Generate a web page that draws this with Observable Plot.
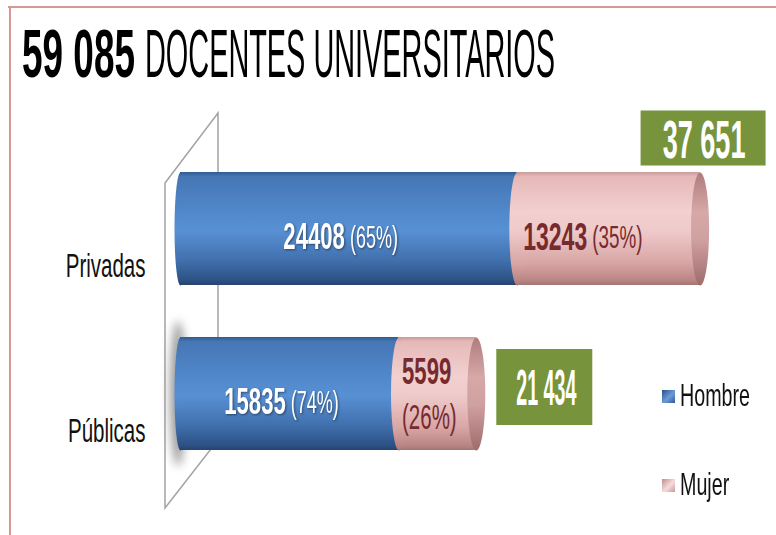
<!DOCTYPE html>
<html>
<head>
<meta charset="utf-8">
<script src="https://cdn.jsdelivr.net/npm/d3@7"></script>
<script src="https://cdn.jsdelivr.net/npm/@observablehq/plot@0.6"></script>
<style>
  body { margin: 0; background: #fff; }
  #wrap { position: relative; width: 776px; height: 535px; overflow: hidden;
          font-family: "Liberation Sans", Arial, sans-serif; }
  #bt { position: absolute; left: 8px; top: 6px; right: 0; height: 2px; background: #d99694; }
  #bl { position: absolute; left: 9px; top: 6px; bottom: 0; width: 2px; background: #d99694; }
  .tt { position: absolute; top: 19px; white-space: nowrap; font-size: 68px;
        line-height: 68px; color: #000; transform-origin: 0 0; display: inline-block; }
  #t1 { left: 22px; font-weight: 700; }
  #t2 { left: 145px; }
  #chart { position: absolute; left: 0; top: 100px; }
  .li { position: absolute; left: 662px; height: 26px; display: flex; align-items: center; }
  .sw { width: 13px; height: 13px; flex: none; }
  .lt { margin-left: 5px; font-size: 24px; color: #111; display: inline-block; white-space: nowrap;
        transform: scale(0.82, 1.3); transform-origin: 0 50%; }
</style>
</head>
<body>
<div id="wrap">
  <div id="bt"></div><div id="bl"></div>
  <div id="t1" class="tt"></div><div id="t2" class="tt"></div>
  <div id="chart"></div>
  <div id="legend"></div>
</div>
<script>
// ---- data ----
const categories = ["Privadas", "Públicas"];
const sexes = ["Hombre", "Mujer"];
const hombre = [24408, 15835];
const mujer = [13243, 5599];
const hombrePct = [65, 74];
const mujerPct = [35, 26];
const totals = [37651, 21434];
const titleText = "DOCENTES UNIVERSITARIOS";

const FONT = '"Liberation Sans", Arial, sans-serif';
const fmt = d3.formatLocale({decimal: ",", thousands: " ", grouping: [3], currency: ["", ""]}).format(",d");

// title (two parts, each condensed to the reference width)
const t1 = document.getElementById("t1"), t2 = document.getElementById("t2");
t1.textContent = fmt(d3.sum(totals));
t2.textContent = titleText;
t1.style.transform = `scaleX(${113 / t1.getBoundingClientRect().width})`;
t2.style.transform = `scaleX(${410 / t2.getBoundingClientRect().width})`;

// legend
const swatch = {Hombre: "linear-gradient(135deg,#2a4f85,#6c9bd9 55%,#2f5b93)",
                Mujer: "linear-gradient(135deg,#c08c8c,#f6dcdc 55%,#c99898)"};
const legendCenters = [396, 485];
const legend = document.getElementById("legend");
sexes.forEach((s, i) => {
  const d = document.createElement("div");
  d.className = "li";
  d.style.top = (legendCenters[i] - 13) + "px";
  d.innerHTML = `<span class="sw" style="background:${swatch[s]}"></span><span class="lt">${s}</span>`;
  legend.appendChild(d);
});

// rows
const rows = categories.flatMap((c, i) => [
  {category: c, sex: "Hombre", value: hombre[i], pct: hombrePct[i], start: 0, end: hombre[i]},
  {category: c, sex: "Mujer", value: mujer[i], pct: mujerPct[i], start: hombre[i], end: hombre[i] + mujer[i]}
]);
const tot = categories.map((c, i) => ({category: c, total: totals[i], hombre: hombre[i]}));
const H = rows.filter(d => d.sex === "Hombre");
const M = rows.filter(d => d.sex === "Mujer");
const wide = d => d.value >= 8000;

function ellipse(rx, ry) {
  return {draw(c) {
    const kx = rx * 0.5523, ky = ry * 0.5523;
    c.moveTo(rx, 0);
    c.bezierCurveTo(rx, ky, kx, ry, 0, ry);
    c.bezierCurveTo(-kx, ry, -rx, ky, -rx, 0);
    c.bezierCurveTo(-rx, -ky, -kx, -ry, 0, -ry);
    c.bezierCurveTo(kx, -ry, rx, -ky, rx, 0);
    c.closePath();
  }};
}
function box(w, h) {
  return {draw(c) { c.rect(-w / 2, -h / 2, w, h); }};
}

function decor(index, scales, values, dims) {
  const g = d3.create("svg:g");
  const defs = g.append("defs");
  const grad = (id, stops) => {
    const lg = defs.append("linearGradient").attr("id", id).attr("x1", 0).attr("y1", 0).attr("x2", 0).attr("y2", 1);
    stops.forEach(([o, c]) => lg.append("stop").attr("offset", o).attr("stop-color", c));
  };
  grad("gH", [[0, "#2f5b91"], [0.04, "#4676b4"], [0.35, "#5088cb"], [0.52, "#5890d4"], [0.78, "#4170ad"], [0.95, "#2d5387"], [1, "#27446e"]]);
  grad("gM", [[0, "#c99a9a"], [0.04, "#e6b8b8"], [0.35, "#f2d0d0"], [0.52, "#efcaca"], [0.8, "#d9a6a6"], [0.96, "#b98484"], [1, "#a67474"]]);
  grad("gC", [[0, "#b07c7c"], [0.35, "#d6a8a8"], [0.6, "#cfa0a0"], [1, "#9e6b6b"]]);
  defs.append("filter").attr("id", "blur").attr("x", "-100%").attr("y", "-50%").attr("width", "300%").attr("height", "200%")
    .append("feGaussianBlur").attr("stdDeviation", 5);
  const x = scales.x, y = scales.y;
  const x0 = x(0);
  const bw = y.bandwidth ? y.bandwidth() : 113;
  const top = y(categories[0]), bot = y(categories[categories.length - 1]) + bw;
  const fx = x0 - 15, bx = x0 + 38;
  g.append("path")
    .attr("d", `M${fx},${top + 11}L${bx},${top - 59}V${bot - 10}L${fx},${bot + 58}Z`)
    .attr("fill", "none").attr("stroke", "#a3a3a3").attr("stroke-width", 1.5);
  const yc = y(categories[1]) + bw / 2;
  g.append("ellipse").attr("cx", x0 - 2).attr("cy", yc).attr("rx", 8).attr("ry", bw / 2 + 16)
    .attr("fill", "#6f6f6f").attr("opacity", 0.7).attr("filter", "url(#blur)");
  return g.node();
}

const plot = Plot.plot({
  width: 776,
  height: 435,
  marginLeft: 180,
  marginRight: 44,
  marginTop: 46,
  marginBottom: 59,
  style: {fontFamily: FONT, background: "transparent", overflow: "visible"},
  x: {domain: [0, 40000], axis: null},
  y: {domain: categories, axis: null, paddingInner: 0.315, paddingOuter: 0.1575},
  color: {domain: sexes, range: ["url(#gH)", "url(#gM)"]},
  marks: [
    decor,
    Plot.dot(tot, {x: () => 0, y: "category", symbol: ellipse(6, 56.5), fill: "url(#gH)", stroke: "none"}),
    Plot.barX(rows, {x1: "start", x2: "end", y: "category", fill: "sex"}),
    Plot.dot(tot, {x: "hombre", y: "category", symbol: ellipse(8, 56.5), fill: "url(#gM)", stroke: "none"}),
    Plot.dot(tot, {x: "total", y: "category", symbol: ellipse(9, 56.5), fill: "url(#gC)", stroke: "none"}),
    // segment labels
    Plot.text(H, {x: d => (d.start + d.end) / 2, y: "category", text: d => String(d.value), textAnchor: "end",
                  dx: -4, dy: 8, fontSize: 27, fontWeight: "bold", fill: "white"}),
    Plot.text(H, {x: d => (d.start + d.end) / 2, y: "category", text: d => `(${d.pct}%)`, textAnchor: "start",
                  dx: 1, dy: 9, fontSize: 22, fill: "white"}),
    Plot.text(M.filter(wide), {x: "start", y: "category", text: d => String(d.value), textAnchor: "start",
                  dx: 6, dy: 8, fontSize: 28, fontWeight: "bold", fill: "#772a2e"}),
    Plot.text(M.filter(wide), {x: "start", y: "category", text: d => `(${d.pct}%)`, textAnchor: "start",
                  dx: 75, dy: 9, fontSize: 23, fill: "#772a2e"}),
    Plot.text(M.filter(d => !wide(d)), {x: "start", y: "category", text: d => String(d.value), textAnchor: "start",
                  dx: 3, dy: -22, fontSize: 27, fontWeight: "bold", fill: "#772a2e"}),
    Plot.text(M.filter(d => !wide(d)), {x: "start", y: "category", text: d => `(${d.pct}%)`, textAnchor: "start",
                  dx: 3, dy: 24, fontSize: 25, fill: "#772a2e"}),
    // category labels
    Plot.text(categories, {x: () => 0, y: d => d, text: d => d, textAnchor: "end", dx: -35, dy: 38,
                  fontSize: 25, fill: "#111"}),
    // total boxes
    Plot.dot(tot.filter(d => d.total >= 30000), {x: "total", y: "category", symbol: box(125, 55), fill: "#77933c",
                  stroke: "none", dx: 3, dy: -91}),
    Plot.dot(tot.filter(d => d.total < 30000), {x: "total", y: "category", symbol: box(96, 76), fill: "#77933c",
                  stroke: "none", dx: 68, dy: -7}),
    Plot.text(tot.filter(d => d.total >= 30000), {x: "total", y: "category", text: d => fmt(d.total),
                  dx: 4, dy: -88, fontSize: 33, fontWeight: "bold", fill: "white"}),
    Plot.text(tot.filter(d => d.total < 30000), {x: "total", y: "category", text: d => fmt(d.total),
                  dx: 70, dy: -5, fontSize: 24, fontWeight: "bold", fill: "white"})
  ]
});
document.getElementById("chart").appendChild(plot);

// condensed, tall lettering as in the reference
const stretch = [1.4, 1.4, 1.4, 1.4, 1.4, 1.4, 1.3, 1.6, 2.1];
plot.querySelectorAll('g[aria-label="text"]').forEach((g, i) => {
  const s = stretch[i] || 1.3;
  g.querySelectorAll("text").forEach(t => {
    let tr = t.getAttribute("transform");
    if (!tr) {
      const x = t.getAttribute("x") || 0, y = t.getAttribute("y") || 0;
      t.removeAttribute("x"); t.removeAttribute("y");
      tr = `translate(${x},${y})`;
    }
    t.setAttribute("transform", `${tr} scale(0.82,${s})`);
  });
  if (i < 2) g.setAttribute("style", "filter: drop-shadow(1px 1px 1px rgba(0,0,0,0.45))");
});
</script>
</body>
</html>
